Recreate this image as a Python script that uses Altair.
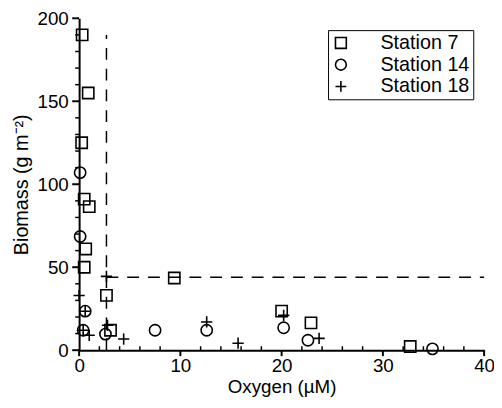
import altair as alt
import pandas as pd

# Station 7 (squares)
s7_oxygen = [0.3, 0.9, 0.25, 0.5, 1.0, 0.65, 0.5, 2.7, 3.1, 9.4, 20.0, 22.9, 32.7]
s7_biomass = [190, 155, 125, 91, 86.5, 61, 50, 33, 12, 43.5, 23.5, 16.5, 2.2]
# Station 14 (circles)
s14_oxygen = [0.1, 0.1, 0.6, 0.4, 2.6, 7.5, 12.6, 20.2, 22.6, 34.9]
s14_biomass = [107, 68.5, 23.5, 12, 9.7, 12, 12, 13.5, 6, 0.8]
# Station 18 (plus)
s18_oxygen = [0.0, 0.6, 0.4, 1.0, 2.7, 2.8, 4.4, 12.6, 15.7, 20.2, 23.7]
s18_biomass = [33, 23.5, 12, 9, 44.5, 15, 6.7, 17, 4.2, 21, 7.1]

stations = ["Station 7", "Station 14", "Station 18"]

# Threshold dashed lines
v_line_x = [2.7]
v_line_y = [0]
v_line_y2 = [190]
h_line_y = [44]
h_line_x = [2.7]
h_line_x2 = [40]

# Axis ticks
x_major = [0, 10, 20, 30, 40]
x_minor = [2, 4, 6, 8, 12, 14, 16, 18, 22, 24, 26, 28, 32, 34, 36, 38]
y_major = [0, 50, 100, 150, 200]
y_minor = [10, 20, 30, 40, 60, 70, 80, 90, 110, 120, 130, 140, 160, 170, 180, 190]

rows = []
for ox, bm, st in [(s7_oxygen, s7_biomass, stations[0]),
                   (s14_oxygen, s14_biomass, stations[1]),
                   (s18_oxygen, s18_biomass, stations[2])]:
    for o, b in zip(ox, bm):
        rows.append({"oxygen": o, "biomass": b, "station": st})
df = pd.DataFrame(rows)

FONT = "Liberation Sans"
plus_path = "M-1,0L1,0M0,-1L0,1"
H = 336

xscale = alt.Scale(domain=[0, 40], nice=False, zero=False)
yscale = alt.Scale(domain=[0, 200], nice=False, zero=False)

points = alt.Chart(df).mark_point(filled=False, strokeWidth=1.6, size=130, opacity=1, color="black").encode(
    x=alt.X("oxygen:Q", scale=xscale,
            axis=alt.Axis(title="Oxygen (µM)", values=x_major, tickSize=5, labelPadding=2,
                          titlePadding=2, titleFontSize=19, tickOpacity=0)),
    y=alt.Y("biomass:Q", scale=yscale,
            axis=alt.Axis(title="Biomass (g m⁻²)", values=y_major, tickSize=6, labelPadding=5,
                          titlePadding=6, titleFontSize=20, tickOpacity=0)),
    shape=alt.Shape("station:N",
                    scale=alt.Scale(domain=stations, range=["square", "circle", plus_path]),
                    legend=alt.Legend(title=None, orient="none", legendX=252, legendY=12,
                                      strokeColor="black", padding=3, fillColor="white",
                                      labelFont=FONT, labelFontSize=20, labelColor="black",
                                      symbolStrokeColor="black", symbolFillColor="transparent",
                                      symbolStrokeWidth=1.6, symbolSize=120, labelOffset=30,
                                      rowPadding=2, symbolOffset=0)),
)

vdf = pd.DataFrame({"x": v_line_x, "y": v_line_y, "y2": v_line_y2})
hdf = pd.DataFrame({"x": h_line_x, "x2": h_line_x2, "y": h_line_y})

vrule = alt.Chart(vdf).mark_rule(color="black", strokeDash=[12, 9], strokeWidth=1.5).encode(
    x=alt.X("x:Q", scale=xscale), y=alt.Y("y:Q", scale=yscale), y2="y2:Q")
hrule = alt.Chart(hdf).mark_rule(color="black", strokeDash=[12, 9], strokeWidth=1.5).encode(
    x=alt.X("x:Q", scale=xscale), x2="x2:Q", y=alt.Y("y:Q", scale=yscale))

# tick marks drawn from the tick lists
xmaj = alt.Chart(pd.DataFrame({"t": x_major})).mark_rule(color="black", strokeWidth=2).encode(
    x=alt.X("t:Q", scale=xscale), y=alt.value(H), y2=alt.value(H + 6))
xmin = alt.Chart(pd.DataFrame({"t": x_minor})).mark_rule(color="black", strokeWidth=1.5).encode(
    x=alt.X("t:Q", scale=xscale), y=alt.value(H), y2=alt.value(H - 4))
ymaj = alt.Chart(pd.DataFrame({"t": y_major})).mark_rule(color="black", strokeWidth=2).encode(
    y=alt.Y("t:Q", scale=yscale), x=alt.value(-7), x2=alt.value(0))
ymin = alt.Chart(pd.DataFrame({"t": y_minor})).mark_rule(color="black", strokeWidth=1.5).encode(
    y=alt.Y("t:Q", scale=yscale), x=alt.value(-4), x2=alt.value(0))

chart = alt.layer(points, vrule, hrule, xmaj, xmin, ymaj, ymin).properties(
    width=410, height=H,
    autosize=alt.AutoSizeParams(type="none"),
    padding={"left": 72, "top": 8, "right": 10, "bottom": 48},
    background="white",
).configure_view(stroke=None).configure_axis(
    grid=False, domainColor="black", domainWidth=2,
    labelFont=FONT, labelFontSize=19, labelColor="black",
    titleFont=FONT, titleFontWeight="normal", titleColor="black",
    labelFlush=False, labelOverlap=False)

chart.save("out.html", embed_options={"renderer": "svg", "actions": False})
